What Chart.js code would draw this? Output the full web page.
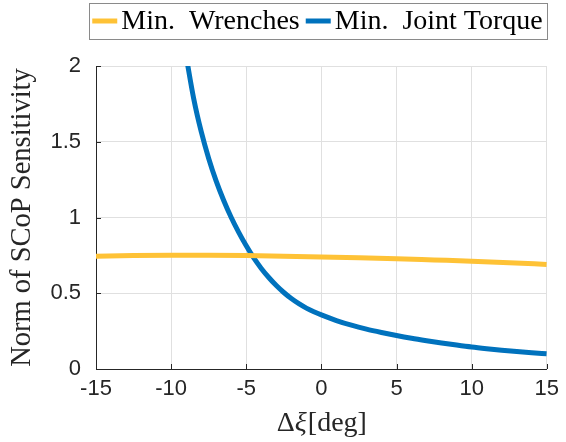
<!DOCTYPE html>
<html>
<head>
<meta charset="utf-8">
<script src="https://cdn.jsdelivr.net/npm/chart.js@4"></script>
<style>
  html, body { margin: 0; padding: 0; background: #fff; }
  #wrap { width: 566px; height: 442px; }
</style>
</head>
<body>
<div id="wrap"><canvas id="c" width="566" height="442"></canvas></div>
<script>
// values
const wrenchX = [-15, -12.5, -10, -7.5, -5, -2.5, 0, 2.5, 5, 7.5, 10, 12.5, 15];
const wrenchY = [0.745, 0.749, 0.751, 0.751, 0.749, 0.745, 0.740, 0.735, 0.728, 0.720, 0.712, 0.702, 0.690];

const torqueX = [-9, -8.5, -8, -7.5, -7, -6.5, -6, -5.5, -5, -4.5, -4, -3.5, -3, -2.5, -2, -1.5, -1, -0.5,
                 0, 1, 2, 3, 4, 5, 6, 7, 8, 9, 10, 11, 12, 13, 14, 15];
const torqueY = [2.065, 1.786, 1.568, 1.39, 1.24, 1.112, 1.00, 0.902, 0.813, 0.733, 0.664, 0.604, 0.551, 0.505, 0.465, 0.431, 0.402, 0.378,
                 0.357, 0.320, 0.289, 0.263, 0.241, 0.221, 0.203, 0.187, 0.172, 0.158, 0.145, 0.134, 0.124, 0.115, 0.107, 0.100];

const xTicks = [-15, -10, -5, 0, 5, 10, 15];
const yTicks = [0, 0.5, 1, 1.5, 2];

const seriesNames = ['Min.  Wrenches', 'Min.  Joint Torque'];
const seriesColors = ['#FEC236', '#0072BD'];

const AXIS = '#262626';
const GRID = '#e0e0e0';
const SERIF = '"Liberation Serif", "Times New Roman", serif';
const SANS = '"Liberation Sans", Arial, sans-serif';

const pts = (xs, ys) => xs.map((x, i) => ({ x: x, y: ys[i] }));

// inward tick marks, matlab style
const innerTicks = {
  id: 'innerTicks',
  afterDatasetsDraw(chart) {
    const { ctx, chartArea, scales } = chart;
    ctx.save();
    ctx.strokeStyle = AXIS;
    ctx.lineWidth = 1;
    ctx.beginPath();
    xTicks.forEach(v => {
      const px = Math.round(scales.x.getPixelForValue(v)) + 0.5;
      ctx.moveTo(px, chartArea.bottom);
      ctx.lineTo(px, chartArea.bottom - 5);
    });
    yTicks.forEach(v => {
      const py = Math.round(scales.y.getPixelForValue(v)) + 0.5;
      ctx.moveTo(chartArea.left, py);
      ctx.lineTo(chartArea.left + 5, py);
    });
    ctx.stroke();
    ctx.restore();
  }
};

// boxed legend on top + x title with italic xi
const boxLegend = {
  id: 'boxLegend',
  afterDraw(chart) {
    const { ctx, chartArea } = chart;
    ctx.save();
    ctx.font = '28px ' + SERIF;
    ctx.textBaseline = 'middle';
    const lineLen = 25, gapA = 4, gapB = 6, padL = 3, padR = 4;
    const widths = seriesNames.map(n => ctx.measureText(n).width);
    let total = padL + padR;
    widths.forEach((w, i) => { total += lineLen + gapA + w + (i < widths.length - 1 ? gapB : 0); });
    const right = chartArea.right;
    const left = right - total;
    const top = 3, bottom = 39, mid = 21;
    ctx.fillStyle = '#fff';
    ctx.fillRect(left, top, total, bottom - top);
    ctx.strokeStyle = '#8a8a8a';
    ctx.lineWidth = 1;
    ctx.strokeRect(Math.round(left) + 0.5, top + 0.5, Math.round(total), bottom - top);
    let x = left + padL;
    chart.data.datasets.forEach((ds, i) => {
      ctx.strokeStyle = ds.borderColor;
      ctx.lineWidth = 5;
      ctx.beginPath();
      ctx.moveTo(x, mid);
      ctx.lineTo(x + lineLen, mid);
      ctx.stroke();
      x += lineLen + gapA;
      ctx.fillStyle = '#000';
      ctx.fillText(seriesNames[i], x, mid + 1);
      x += widths[i] + gapB;
    });

    // x axis title: Δξ[deg]
    const parts = [['Δ', ''], ['ξ', 'italic '], ['[deg]', '']];
    const pw = parts.map(p => { ctx.font = p[1] + '28px ' + SERIF; return ctx.measureText(p[0]).width; });
    let tx = (chartArea.left + chartArea.right) / 2 - pw.reduce((a, b) => a + b, 0) / 2;
    ctx.fillStyle = AXIS;
    parts.forEach((p, i) => {
      ctx.font = p[1] + '28px ' + SERIF;
      ctx.fillText(p[0], tx, 424);
      tx += pw[i] + (i === 1 ? 1 : 0);
    });
    ctx.restore();
  }
};

new Chart(document.getElementById('c'), {
  type: 'line',
  data: {
    datasets: [
      {
        label: seriesNames[0],
        data: pts(wrenchX, wrenchY),
        borderColor: seriesColors[0],
        borderWidth: 5,
        pointRadius: 0,
        cubicInterpolationMode: 'monotone',
        fill: false
      },
      {
        label: seriesNames[1],
        data: pts(torqueX, torqueY),
        borderColor: seriesColors[1],
        borderWidth: 5,
        pointRadius: 0,
        cubicInterpolationMode: 'monotone',
        fill: false,
        clip: 0
      }
    ]
  },
  options: {
    responsive: false,
    animation: false,
    events: [],
    layout: { padding: { top: 66, right: 13, left: 0, bottom: 0 } },
    plugins: {
      legend: { display: false },
      tooltip: { enabled: false }
    },
    scales: {
      x: {
        type: 'linear',
        min: -15,
        max: 15,
        afterBuildTicks: s => { s.ticks = xTicks.map(v => ({ value: v })); },
        afterFit: s => { s.height = 73; },
        grid: { color: GRID, drawTicks: false },
        border: { color: AXIS, width: 1 },
        ticks: {
          padding: 7,
          color: AXIS,
          maxRotation: 0,
          callback: v => String(v),
          font: { family: SANS, size: 22 }
        }
      },
      y: {
        min: 0,
        max: 2,
        afterBuildTicks: s => { s.ticks = yTicks.map(v => ({ value: v })); },
        afterFit: s => { s.width = 96; },
        grid: { color: GRID, drawTicks: false },
        border: { color: AXIS, width: 1 },
        ticks: {
          padding: 15,
          color: AXIS,
          callback: v => String(v),
          font: { family: SANS, size: 22 }
        },
        title: {
          display: true,
          text: 'Norm of SCoP Sensitivity',
          color: AXIS,
          padding: { top: 5, bottom: 0 },
          font: { family: SERIF, size: 28.5 }
        }
      }
    }
  },
  plugins: [innerTicks, boxLegend]
});
</script>
</body>
</html>
